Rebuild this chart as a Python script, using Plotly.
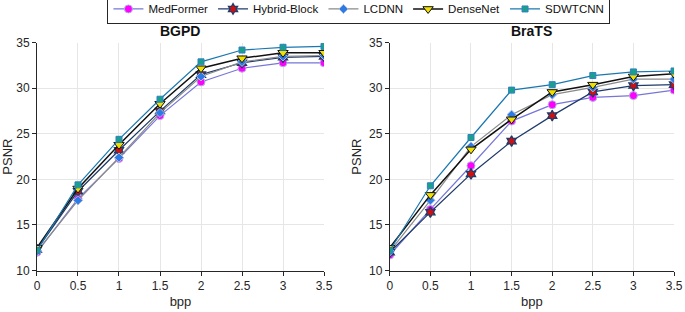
import plotly.graph_objects as go

bpp = [0, 0.5, 1, 1.5, 2, 2.5, 3, 3.5]
series_names = ["MedFormer", "Hybrid-Block", "LCDNN", "DenseNet", "SDWTCNN"]

bgpd_medformer = [12.0, 17.9, 22.3, 27.0, 30.7, 32.2, 32.8, 32.8]
bgpd_hybrid = [12.3, 18.7, 23.2, 27.5, 31.5, 32.8, 33.4, 33.5]
bgpd_lcdnn = [12.1, 17.7, 22.4, 27.3, 31.3, 32.9, 33.5, 33.6]
bgpd_densenet = [12.5, 19.0, 23.8, 28.3, 32.2, 33.3, 33.9, 33.9]
bgpd_sdwtcnn = [12.2, 19.4, 24.4, 28.8, 32.9, 34.2, 34.5, 34.6]

brats_medformer = [11.7, 16.7, 21.5, 26.4, 28.2, 29.0, 29.2, 29.8]
brats_hybrid = [12.0, 16.4, 20.6, 24.2, 27.0, 29.6, 30.3, 30.4]
brats_lcdnn = [12.1, 17.7, 23.6, 27.1, 29.3, 30.1, 31.0, 31.0]
brats_densenet = [12.5, 18.3, 23.3, 26.6, 29.6, 30.4, 31.3, 31.6]
brats_sdwtcnn = [12.2, 19.3, 24.6, 29.8, 30.4, 31.4, 31.8, 31.9]

styles = {
    "MedFormer": dict(line=dict(color="#7676d8", width=1.2),
                      marker=dict(symbol="circle", size=8, color="#ff00ff", line=dict(color="#b0b0e8", width=1))),
    "Hybrid-Block": dict(line=dict(color="#1f3b6b", width=1.2),
                         marker=dict(symbol="hexagram", size=8, color="#d01010", line=dict(color="#1f3b6b", width=1.3))),
    "LCDNN": dict(line=dict(color="#8a8a8a", width=1.2),
                  marker=dict(symbol="diamond", size=7, color="#2a7ae8", line=dict(color="#a8b8d8", width=1))),
    "DenseNet": dict(line=dict(color="#111111", width=1.5),
                     marker=dict(symbol="triangle-down", size=9, color="#f0e000", line=dict(color="#111111", width=1))),
    "SDWTCNN": dict(line=dict(color="#1a78b0", width=1.2),
                    marker=dict(symbol="square", size=6, color="#1aa08a", line=dict(color="#2f7fc8", width=1))),
}

bgpd = [bgpd_medformer, bgpd_hybrid, bgpd_lcdnn, bgpd_densenet, bgpd_sdwtcnn]
brats = [brats_medformer, brats_hybrid, brats_lcdnn, brats_densenet, brats_sdwtcnn]

fig = go.Figure()
for name, vals in zip(series_names, bgpd):
    fig.add_trace(go.Scatter(x=bpp, y=vals, mode="lines+markers", name=name,
                             xaxis="x", yaxis="y", **styles[name]))
for name, vals in zip(series_names, brats):
    fig.add_trace(go.Scatter(x=bpp, y=vals, mode="lines+markers", name=name, showlegend=False,
                             xaxis="x2", yaxis="y2", **styles[name]))

font = dict(family="Liberation Sans, Arial, sans-serif", size=12, color="#262626")
axis_common = dict(showgrid=True, gridcolor="#e6e6e6", gridwidth=1, showline=True,
                   linecolor="#262626", linewidth=1, ticks="outside", ticklen=4,
                   tickcolor="#262626", zeroline=False, automargin=False,
                   tickfont=dict(size=12, color="#262626"))
xcommon = dict(axis_common, range=[0, 3.5], tickvals=bpp,
               ticktext=["0", "0.5", "1", "1.5", "2", "2.5", "3", "3.5"])
ycommon = dict(axis_common, range=[10, 35], tickvals=[10, 15, 20, 25, 30, 35])

fig.update_layout(
    width=685, height=312,
    margin=dict(l=0, r=0, t=0, b=0, autoexpand=False),
    paper_bgcolor="white", plot_bgcolor="white",
    font=font,
    xaxis=dict(xcommon, domain=[0.054, 0.473], anchor="y",
               title=dict(text="bpp", standoff=4, font=dict(size=13))),
    yaxis=dict(ycommon, domain=[0.133, 0.863], anchor="x",
               title=dict(text="PSNR", standoff=4, font=dict(size=13))),
    xaxis2=dict(xcommon, domain=[0.569, 0.984], anchor="y2",
                title=dict(text="bpp", standoff=4, font=dict(size=13))),
    yaxis2=dict(ycommon, domain=[0.133, 0.863], anchor="x2",
                title=dict(text="PSNR", standoff=4, font=dict(size=13))),
    legend=dict(orientation="h", x=0.524, xanchor="center", y=1.021, yanchor="top",
                bordercolor="#262626", borderwidth=1, bgcolor="white",
                font=dict(size=11.5, color="#111111"), itemwidth=30,
                tracegroupgap=0),
    annotations=[
        dict(text="<b>BGPD</b>", x=0.2635, y=0.868, xref="paper", yref="paper",
             xanchor="center", yanchor="bottom", showarrow=False, font=dict(size=14, color="#111111")),
        dict(text="<b>BraTS</b>", x=0.7765, y=0.868, xref="paper", yref="paper",
             xanchor="center", yanchor="bottom", showarrow=False, font=dict(size=14, color="#111111")),
    ],
)

fig.write_html("out.html", config={"displayModeBar": False},
               post_script="document.body.style.margin='0px';document.body.style.padding='0px';")
